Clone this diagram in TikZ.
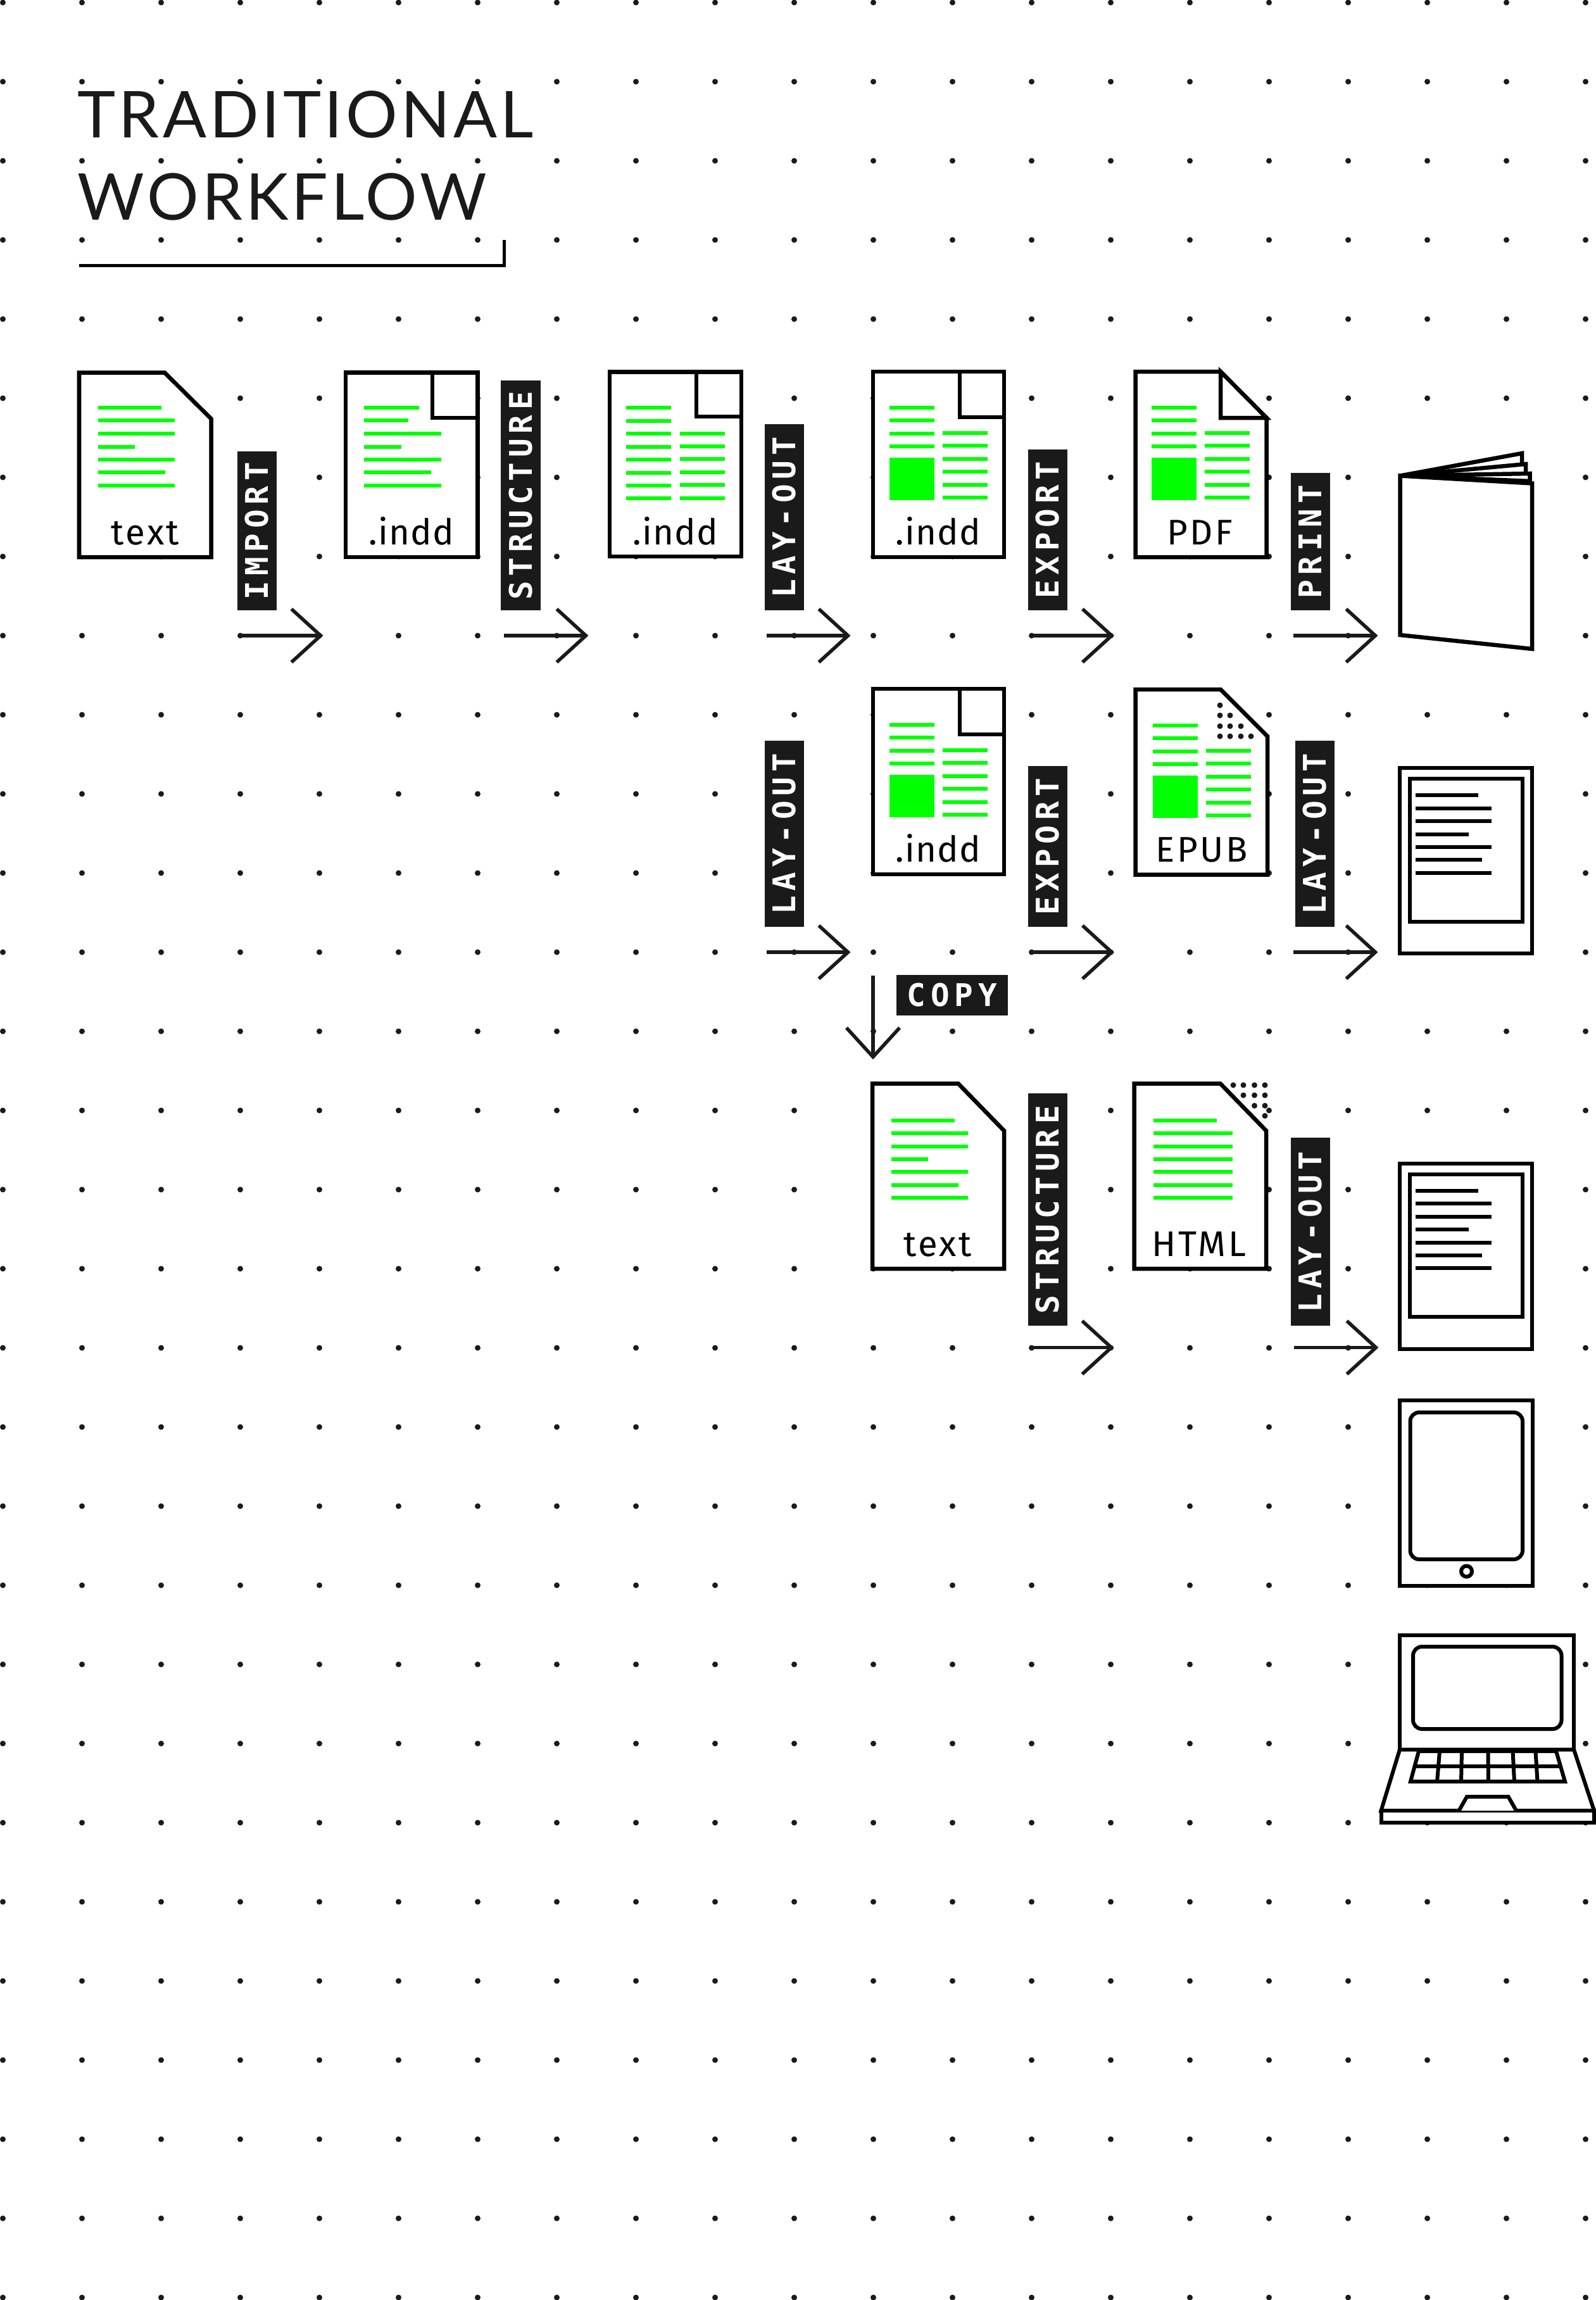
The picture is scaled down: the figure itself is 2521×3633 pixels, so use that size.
\documentclass[tikz,border=0pt]{standalone}
\usepackage{fontspec}
\usetikzlibrary{arrows.meta}
\newfontfamily\titlefont[LetterSpace=5]{Lato}
\newfontfamily\pagefont[LetterSpace=6]{Fira Sans}
\newfontfamily\inddfont[LetterSpace=2]{Fira Sans}
\newfontfamily\tagfont[LetterSpace=16]{DejaVu Sans Mono Bold}
\definecolor{inkblack}{HTML}{1A1A1A}
\definecolor{rowgreen}{HTML}{00FF00}
\tikzset{
  griddot/.style={fill=inkblack},
  docpage/.style={draw=black,fill=white,line width=0.065cm},
  device/.style={draw=black,fill=white,line width=0.06cm},
  greenrow/.style={draw=rowgreen,line width=0.06cm},
  blackrow/.style={draw=black,line width=0.06cm},
  doclabel/.style={anchor=base,inner sep=0pt,font=\pagefont\fontsize{16}{18}\selectfont},
  inddlabel/.style={anchor=base,inner sep=0pt,font=\inddfont\fontsize{16}{18}\selectfont},
  titleline/.style={anchor=base west,inner sep=0pt,text=inkblack,font=\titlefont\fontsize{29}{34}\selectfont},
  tagbar/.style={fill=inkblack,text=white,inner sep=0pt,anchor=west,rotate=90,minimum height=0.625cm,font=\tagfont\fontsize{14}{16}\selectfont},
  flowarrow/.style={draw=inkblack,line width=0.055cm,-{Straight Barb[length=0.46cm,width=0.84cm]}}
}
% green rows of a laid out page, #1 and #2 shift them
\newcommand{\laidrows}[2]{%
  \begin{scope}[shift={(#1,#2)}]
  \foreach \y in {644,664,685,705} \draw[greenrow] (1405,\y) -- (1476,\y);
  \fill[rowgreen] (1405,723) rectangle (1476,790);
  \foreach \y in {684,704,725,745,766,786} \draw[greenrow] (1489,\y) -- (1560,\y);
  \end{scope}}
\begin{document}
\begin{tikzpicture}[x=0.01cm,y=-0.01cm]
\useasboundingbox (0,0) rectangle (2521,3633);

% Drawing the dots
\foreach \i in {0,...,20}
  \foreach \j in {0,...,29}
    \fill[griddot] (4.5+125*\i,4+125*\j) circle (4.5);

% Drawing the title
\node[titleline] (titleone) at (122,217) {TRADITIONAL};
\node[titleline] (titletwo) at (122,347) {WORKFLOW};
\draw[line width=0.055cm,draw=black] (125,419.5) -- (796.5,419.5) -- (796.5,379);

% Drawing page text
\draw[docpage] (125,588.5) -- (260,588.5) -- (333.5,661.5) -- (333.5,880) -- (125,880) -- cycle;
\foreach \y/\e in {644/255,664/276,685/276,705.5/213,726/276,746/261,767/276}
  \draw[greenrow] (155,\y) -- (\e,\y);
\node[doclabel] (textone) at (229.5,860) {text};

% Drawing page indd, first one
\draw[docpage] (546,588.5) rectangle (754.5,880);
\draw[docpage] (683,588.5) rectangle (754.5,660);
\foreach \y/\e in {644/662,664/645,685/696.5,705.5/634,726/696.5,746/681,767/696.5}
  \draw[greenrow] (575,\y) -- (\e,\y);
\node[inddlabel] (inddone) at (650,860) {.indd};

% Drawing page indd, second one
\draw[docpage] (963,587.5) rectangle (1171,879);
\draw[docpage] (1100,587.5) rectangle (1171,658);
\foreach \y in {644,664.5,685,705.5,726,746.5,767,786.5}
  \draw[greenrow] (989,\y) -- (1060,\y);
\foreach \y in {684.5,704.5,725,745.5,766,786.5}
  \draw[greenrow] (1074,\y) -- (1145,\y);
\node[inddlabel] (inddtwo) at (1067,860) {.indd};

% Drawing the laid out pages
\foreach \dy in {0,501} {
  \draw[docpage] (1379,587+\dy) rectangle (1586,880+\dy);
  \draw[docpage] (1516,587+\dy) rectangle (1586,659+\dy);
  \laidrows{0}{\dy}
  \node[inddlabel] (indd\dy) at (1482,860+\dy) {.indd};
}

% Drawing page PDF
\draw[docpage] (1793.5,587) -- (1928,587) -- (2000.5,660) -- (2000.5,880) -- (1793.5,880) -- cycle;
\draw[docpage] (1928,587) -- (1928,660) -- (2000.5,660) -- cycle;
\laidrows{414}{0}
\node[doclabel] (pdfpage) at (1895,860) {PDF};

% Drawing page EPUB
\draw[docpage] (1793.5,1089) -- (1928,1089) -- (2002,1163) -- (2002,1381.5) -- (1793.5,1381.5) -- cycle;
\laidrows{415.5}{501.5}
\foreach \px/\py in {1927/1114,1927/1130,1943/1130,1927/1147,1943/1147,1960/1147,1927/1163,1943/1163,1960/1163,1976/1163}
  \fill[griddot] (\px,\py) circle (4.5);
\node[doclabel] (epubpage) at (1898,1361) {EPUB};

% Drawing page text, after the copy
\draw[docpage] (1378,1711.5) -- (1513.5,1711.5) -- (1586,1786) -- (1586,2004) -- (1378,2004) -- cycle;
\foreach \y/\e in {1770/1508,1790/1529,1810.5/1529,1831/1465.5,1851/1529,1871.5/1514,1892/1529}
  \draw[greenrow] (1408,\y) -- (\e,\y);
\node[doclabel] (texttwo) at (1481,1984) {text};

% Drawing page HTML
\draw[docpage] (1791.5,1711.5) -- (1927.5,1711.5) -- (2000,1786) -- (2000,2004) -- (1791.5,2004) -- cycle;
\foreach \y/\e in {1770/1922,1790/1947,1810.5/1947,1831/1947,1851/1947,1871.5/1947,1892/1947}
  \draw[greenrow] (1822,\y) -- (\e,\y);
\foreach \px/\py in {1948/1714,1964/1714,1981.5/1714,1998/1714,1964/1730,1981.5/1730,1998/1730,1981.5/1746.5,1998/1746.5,1998/1762.5}
  \fill[griddot] (\px,\py) circle (4.5);
\node[doclabel] (htmlpage) at (1894,1984) {HTML};

% Drawing the book
\draw[docpage] (2211.5,751.5) -- (2404,716) -- (2404,750) -- cycle;
\draw[docpage] (2211.5,751.5) -- (2410,733) -- (2410,755) -- cycle;
\draw[docpage] (2211.5,751.5) -- (2416.5,748) -- (2416.5,760) -- cycle;
\draw[docpage] (2211.5,751.5) -- (2420,763.5) -- (2420,1025) -- (2211.5,1003) -- cycle;

% Drawing the two readers
\foreach \dy in {0,624.5} {
  \draw[device] (2211,1213+\dy) rectangle (2420,1506+\dy);
  \draw[device] (2227,1230+\dy) rectangle (2405,1455.5+\dy);
  \foreach \y/\e in {1256/2335,1276.5/2356,1297/2356,1317.5/2320,1338/2356,1358/2341,1378.5/2356}
    \draw[blackrow] (2235.5,\y+\dy) -- (\e,\y+\dy);
}

% Drawing the tablet
\draw[device] (2211,2212) rectangle (2420.5,2504.5);
\draw[device,rounded corners=0.14cm] (2227.5,2231) rectangle (2405,2463);
\draw[device] (2316.5,2482) circle (8.5);

% Drawing the laptop
\draw[device] (2211,2582.5) rectangle (2486,2763.5);
\draw[device,rounded corners=0.14cm] (2232,2601) rectangle (2466.5,2731);
\draw[device] (2211,2763.5) -- (2486,2763.5) -- (2518,2860) -- (2181.5,2860) -- cycle;
\draw[device] (2181.5,2860) rectangle (2518,2879);
\draw[device] (2241,2766) -- (2458,2766) -- (2472,2814) -- (2228,2814) -- cycle;
\draw[device] (2234.5,2790) -- (2465,2790);
\foreach \xa/\xb in {2274/2270,2309/2308,2350.5/2351,2389.5/2392,2425.5/2428.5}
  \draw[device] (\xa,2766) -- (\xb,2814);
\draw[device] (2304.5,2860) -- (2317,2838) -- (2382.5,2838) -- (2395,2860);

% Drawing the tags
\node[tagbar,minimum width=2.51cm] (tagimport) at (406,965) {IMPORT};
\node[tagbar,minimum width=3.63cm] (tagstruct) at (822.5,965) {STRUCTURE};
\node[tagbar,minimum width=2.94cm] (taglayone) at (1239,965) {LAY-OUT};
\node[tagbar,minimum width=2.54cm] (tagexpone) at (1655,965) {EXPORT};
\node[tagbar,minimum width=2.17cm] (tagprint) at (2070,965) {PRINT};
\node[tagbar,minimum width=2.94cm] (taglaytwo) at (1239,1465) {LAY-OUT};
\node[tagbar,minimum width=2.54cm] (tagexptwo) at (1655,1465) {EXPORT};
\node[tagbar,minimum width=2.94cm] (taglaythree) at (2077,1465) {LAY-OUT};
\node[tagbar,rotate=-90,anchor=center,minimum width=1.76cm,minimum height=0.635cm] (tagcopy) at (1504,1572) {COPY};
\node[tagbar,minimum width=3.67cm] (tagstructtwo) at (1655,2095) {STRUCTURE};
\node[tagbar,minimum width=2.97cm] (taglayfour) at (2070,2095) {LAY-OUT};

% Drawing the arrows
\foreach \name/\xa/\xb/\y in {aimport/379/510.5/1004,astruct/796/929.5/1004,alayone/1211/1343.5/1004,aexpone/1626.5/1760/1004,aprint/2043/2176.5/1004,alaytwo/1211/1343.5/1504,aexptwo/1626.5/1760/1504,alaythree/2043/2176.5/1504,astructtwo/1628/1759.5/2128.5,alayfour/2044/2177.5/2128.5} {
  \coordinate (\name a) at (\xa,\y);
  \coordinate (\name b) at (\xb,\y);
  \draw[flowarrow] (\name a) -- (\name b);
}
\coordinate (acopya) at (1379,1541);
\coordinate (acopyb) at (1379,1673.5);
\draw[flowarrow] (acopya) -- (acopyb);
\end{tikzpicture}
\end{document}
